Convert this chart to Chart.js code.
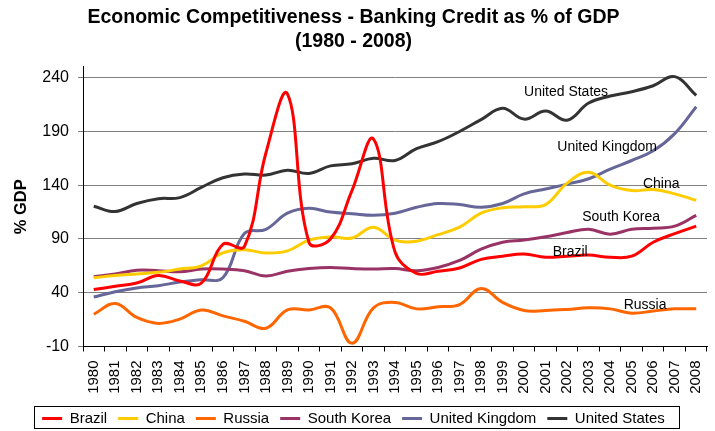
<!DOCTYPE html>
<html>
<head>
<meta charset="utf-8">
<script src="https://cdn.jsdelivr.net/npm/chart.js@4"></script>
<style>
  body { margin: 0; background: #fff; }
  #wrap { width: 715px; height: 431px; }
</style>
</head>
<body>
<div id="wrap"><canvas id="chart" width="715" height="431"></canvas></div>
<script>
// Data (% of GDP)
const years = ['1980','1981','1982','1983','1984','1985','1986','1987','1988','1989',
  '1990','1991','1992','1993','1994','1995','1996','1997','1998','1999',
  '2000','2001','2002','2003','2004','2005','2006','2007','2008'];

const brazil = [43, 46, 49, 56, 51, 49, 85, 83, 170, 225, 87, 90, 135, 183, 78,
  58, 60, 63, 71, 74, 76, 73, 74, 75, 73, 74, 87, 95, 102];
const china = [54, 56, 57.5, 59, 62, 65, 77, 80, 77, 79, 89, 92, 91, 101, 89,
  88, 94, 101, 114, 119, 120, 122, 142, 152, 140, 135, 136, 132, 126];
const russia = [20, 30, 17, 11.5, 15.5, 24, 18.5, 13.5, 7, 24, 24, 26, -7, 26, 31,
  25, 27, 29, 44, 31, 23.5, 23.5, 24.5, 26, 25, 21, 23, 25, 25];
const southKorea = [55, 57.5, 61, 60.5, 59.5, 62, 62, 60.5, 55.5, 60, 62.5, 63.5, 62.5, 62, 62.5,
  60.5, 63.5, 70, 80.5, 87, 89, 92, 96, 99, 94.5, 99, 100, 102, 112];
const unitedKingdom = [36, 41, 44.5, 46.5, 50, 52, 54, 95, 99, 114, 118.5, 115, 113.5, 112, 114,
  119.5, 123, 122, 119.5, 123, 132, 136.5, 141, 146, 155, 163, 172, 188, 213];
const unitedStates = [120.5, 115.5, 123, 127.5, 128.5, 138, 147, 150.5, 149.5, 154, 151, 158, 160, 165, 163,
  174, 180.5, 190, 201, 211.5, 201.5, 209, 200.5, 216.5, 223, 227, 232.5, 241, 223.5];

const yTicks = [-10, 40, 90, 140, 190, 240];

const FONT = "'Liberation Sans', Arial, sans-serif";

// name labels drawn inside the plot (x = category index, y = value)
const seriesLabels = [
  { text: 'United States', x: 21.95, y: 226.4 },
  { text: 'United Kingdom', x: 23.86, y: 175 },
  { text: 'China', x: 26.37, y: 141.4 },
  { text: 'South Korea', x: 24.51, y: 110.6 },
  { text: 'Brazil', x: 22.14, y: 77.8 },
  { text: 'Russia', x: 25.62, y: 28.3 }
];

function line(label, data, color) {
  return {
    label, data,
    borderColor: color,
    backgroundColor: color,
    borderWidth: 3,
    pointRadius: 0,
    tension: 0.4,
    fill: false
  };
}

const labelPlugin = {
  id: 'seriesLabels',
  afterDatasetsDraw(chart) {
    const ctx = chart.ctx;
    const xs = chart.scales.x, ys = chart.scales.y;
    ctx.save();
    ctx.font = '14px ' + FONT;
    ctx.fillStyle = '#000';
    ctx.textAlign = 'center';
    ctx.textBaseline = 'middle';
    seriesLabels.forEach(l => {
      ctx.fillText(l.text, xs.getPixelForValue(l.x), ys.getPixelForValue(l.y));
    });
    ctx.restore();
  },
  afterDraw(chart) {
    // border round the legend
    const boxes = chart.legend.legendHitBoxes;
    if (!boxes || !boxes.length) return;
    const left = Math.min(...boxes.map(b => b.left)) - 8;
    const right = Math.max(...boxes.map(b => b.left + b.width)) + 14;
    const top = Math.min(...boxes.map(b => b.top)) - 5;
    const bottom = Math.max(...boxes.map(b => b.top + b.height)) + 2;
    const ctx = chart.ctx;
    ctx.save();
    ctx.strokeStyle = '#000';
    ctx.lineWidth = 1;
    ctx.strokeRect(Math.round(left) + 0.5, Math.round(top) + 0.5, Math.round(right - left), Math.round(bottom - top));
    ctx.restore();
  }
};

new Chart(document.getElementById('chart'), {
  type: 'line',
  data: {
    labels: years,
    datasets: [
      line('Brazil', brazil, '#FF0000'),
      line('China', china, '#FFCC00'),
      line('Russia', russia, '#FF6600'),
      line('South Korea', southKorea, '#993366'),
      line('United Kingdom', unitedKingdom, '#666699'),
      line('United States', unitedStates, '#333333')
    ]
  },
  options: {
    responsive: false,
    animation: false,
    layout: { padding: { left: 0, right: 8, top: 0, bottom: -5 } },
    plugins: {
      title: {
        display: true,
        text: ['Economic Competitiveness - Banking Credit as % of GDP', '(1980 - 2008)'],
        color: '#000',
        font: { family: FONT, size: 19.5, weight: 'bold', lineHeight: 1.23 },
        padding: { top: 6, bottom: 13 }
      },
      legend: {
        position: 'bottom',
        labels: {
          color: '#000',
          font: { family: FONT, size: 15 },
          usePointStyle: true,
          pointStyle: 'line',
          pointStyleWidth: 20,
          padding: 11
        }
      },
      tooltip: { enabled: false }
    },
    scales: {
      x: {
        offset: true,
        afterFit: s => {
          s.height = 53.5;
          s.paddingLeft = 0;
          s.paddingRight = 0;
        },
        grid: { display: true, drawOnChartArea: false, drawTicks: true, tickLength: 5, color: '#000', offset: true },
        border: { color: '#000', width: 1 },
        ticks: {
          color: '#000',
          font: { family: FONT, size: 15 },
          minRotation: 90,
          maxRotation: 90,
          autoSkip: false,
          padding: 9
        }
      },
      y: {
        min: -10,
        max: 250,
        afterBuildTicks: s => { s.ticks = yTicks.map(v => ({ value: v })); },
        afterFit: s => { s.width = 83; },
        grid: { color: '#808080', tickLength: 5, lineWidth: 1 },
        border: { color: '#000', width: 1 },
        ticks: {
          color: '#000',
          font: { family: FONT, size: 16 },
          padding: 9
        },
        title: {
          display: true,
          text: '% GDP',
          color: '#000',
          font: { family: FONT, size: 16.5, weight: 'bold' },
          padding: { top: 12, bottom: 0 }
        }
      }
    }
  },
  plugins: [labelPlugin]
});
</script>
</body>
</html>
